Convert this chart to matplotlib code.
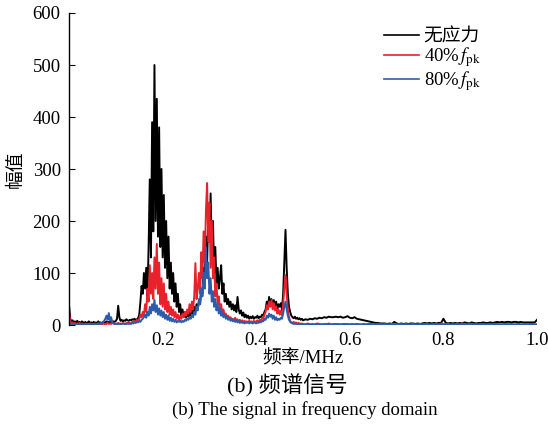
import numpy as np
import matplotlib
matplotlib.use("Agg")
import matplotlib.pyplot as plt

plt.rcParams['font.family'] = ['Liberation Serif', 'Noto Sans CJK SC']
plt.rcParams['mathtext.fontset'] = 'stix'

# frequency axis: fine bins up to 0.5 MHz, coarser bins after
freq_fine = np.arange(0, 0.5, 0.0025)
freq_coarse = np.arange(0.5, 1.0001, 0.005)
freq_mhz = np.concatenate([freq_fine, freq_coarse])

# amplitude (no stress)
amp_free = [
    38, 12, 6, 9, 4, 7, 5, 8, 4, 6, 3, 7, 5, 4, 6, 3, 5, 7, 4, 5,
    3, 6, 4, 5, 3, 7, 4, 5, 3, 6, 4, 5, 7, 4, 6, 5, 8, 5, 7, 6,
    8, 12, 37, 15, 8, 10, 7, 9, 8, 11, 9, 8, 10, 9, 11, 10, 12, 9, 11, 13,
    20, 45, 75, 60, 100, 70, 110, 55, 150, 280, 130, 390, 180, 500, 200, 435, 170, 380, 150, 300,
    130, 250, 110, 200, 90, 170, 70, 120, 60, 100, 45, 80, 35, 60, 25, 40, 18, 30, 15, 25,
    14, 25, 16, 30, 18, 28, 20, 35, 25, 40, 30, 45, 40, 70, 60, 110, 90, 170, 120, 210,
    160, 253, 140, 200, 100, 150, 80, 110, 70, 90, 115, 60, 80, 45, 60, 40, 50, 35, 45, 30,
    40, 28, 38, 25, 54, 30, 22, 28, 18, 24, 15, 20, 14, 18, 12, 16, 13, 17, 12, 15,
    14, 18, 13, 16, 15, 20, 18, 25, 30, 45, 35, 54, 40, 50, 38, 48, 35, 45, 30, 40,
    35, 42, 30, 60, 120, 183, 110, 60, 35, 25, 18, 15, 13, 16, 12, 14, 11, 13, 10, 12,
    9, 11, 10, 12, 11, 13, 12, 14, 13, 15, 14, 16, 15, 15, 16, 15, 16, 14, 15, 17,
    14, 13, 15, 12, 11, 10, 9, 8, 7, 6, 5, 4, 4, 3, 3, 3, 2, 3, 2, 6,
    3, 2, 3, 2, 3, 2, 3, 3, 2, 3, 2, 3, 4, 3, 4, 3, 4, 3, 4, 4,
    12, 4, 3, 4, 3, 4, 3, 4, 3, 5, 4, 3, 5, 4, 3, 4, 4, 5, 4, 4,
    5, 4, 5, 6, 5, 6, 5, 6, 6, 5, 6, 6, 5, 6, 5, 5, 5, 5, 5, 5,
    10,
]

# 40% fpk
amp_40 = [
    25, 8, 3, 5, 2, 4, 1, 3, 2, 4, 1, 3, 2, 1, 3, 2, 1, 2, 3, 1,
    2, 1, 3, 1, 2, 3, 1, 2, 1, 3, 2, 1, 2, 4, 2, 3, 2, 4, 3, 2,
    3, 2, 4, 2, 3, 2, 4, 3, 2, 4, 3, 5, 3, 4, 6, 4, 8, 5, 10, 7,
    12, 20, 15, 25, 18, 40, 25, 70, 45, 115, 60, 100, 50, 130, 70, 156, 60, 120, 40, 90,
    35, 80, 30, 60, 25, 45, 20, 35, 18, 30, 15, 25, 12, 20, 10, 18, 12, 22, 15, 25,
    18, 30, 22, 40, 25, 45, 30, 55, 119, 50, 70, 100, 60, 140, 90, 180, 120, 220, 273, 160,
    235, 110, 200, 90, 130, 55, 80, 40, 55, 30, 40, 22, 30, 18, 22, 15, 18, 12, 15, 10,
    12, 9, 14, 8, 11, 7, 10, 6, 9, 5, 8, 6, 7, 5, 8, 6, 7, 5, 8, 6,
    7, 9, 6, 10, 8, 14, 12, 20, 25, 38, 30, 45, 35, 48, 30, 42, 28, 36, 22, 30,
    20, 28, 18, 40, 70, 96, 60, 30, 15, 8, 5, 4, 6, 3, 5, 2, 4, 3, 2, 3,
    2, 1, 3, 1, 2, 1, 3, 2, 1, 2, 1, 3, 1, 2, 1, 2, 1, 2, 1, 2,
    1, 2, 1, 2, 1, 1, 2, 1, 1, 2, 1, 1, 2, 1, 1, 2, 1, 1, 2, 1,
    1, 2, 1, 1, 2, 1, 1, 2, 1, 1, 2, 1, 1, 2, 1, 1, 2, 1, 1, 3,
    1, 1, 2, 1, 1, 2, 1, 1, 3, 1, 1, 2, 1, 1, 2, 1, 1, 2, 1, 1,
    2, 1, 1, 2, 1, 1, 2, 1, 1, 2, 1, 1, 2, 1, 1, 2, 1, 1, 2, 1,
    1,
]

# 80% fpk
amp_80 = [
    3, 2, 1, 2, 1, 2, 1, 1, 2, 1, 2, 1, 1, 2, 1, 2, 1, 1, 2, 1,
    2, 1, 2, 1, 2, 3, 2, 4, 3, 5, 8, 12, 18, 10, 23, 8, 15, 5, 3, 2,
    2, 1, 3, 2, 1, 2, 3, 2, 1, 2, 3, 2, 3, 2, 4, 3, 5, 4, 6, 5,
    8, 6, 10, 12, 15, 20, 14, 25, 18, 35, 22, 40, 28, 48, 25, 38, 20, 32, 18, 28,
    15, 25, 12, 20, 10, 18, 8, 14, 7, 12, 6, 10, 5, 8, 6, 9, 5, 8, 6, 10,
    8, 12, 10, 15, 12, 20, 15, 25, 20, 35, 28, 50, 40, 70, 55, 100, 70, 150, 90, 120,
    60, 90, 45, 65, 35, 50, 28, 40, 22, 32, 18, 25, 15, 20, 12, 16, 10, 14, 8, 12,
    7, 10, 6, 9, 5, 8, 4, 7, 4, 6, 3, 5, 4, 6, 3, 5, 4, 3, 5, 4,
    3, 5, 4, 6, 5, 8, 7, 12, 10, 18, 14, 22, 16, 20, 12, 18, 10, 15, 9, 12,
    10, 14, 12, 22, 35, 45, 30, 18, 10, 6, 4, 3, 2, 3, 2, 1, 2, 1, 2, 1,
    1, 1, 2, 1, 1, 1, 2, 1, 1, 1, 2, 1, 1, 1, 2, 1, 1, 1, 2, 1,
    1, 1, 1, 2, 1, 1, 1, 1, 2, 1, 1, 1, 1, 2, 1, 1, 1, 1, 2, 1,
    1, 1, 2, 1, 1, 1, 1, 2, 1, 1, 1, 1, 2, 1, 1, 1, 1, 2, 1, 1,
    1, 2, 1, 1, 1, 1, 2, 1, 1, 1, 1, 2, 1, 1, 1, 1, 2, 1, 1, 1,
    1, 1, 2, 1, 1, 1, 1, 2, 1, 1, 1, 1, 2, 1, 1, 1, 1, 2, 1, 1,
    1,
]

labels = ["无应力", r"40%$\,f_{\mathrm{pk}}$", r"80%$\,f_{\mathrm{pk}}$"]
colors = ["#000000", "#e8212b", "#2d5cab"]
x_ticks = [0.2, 0.4, 0.6, 0.8, 1.0]
y_ticks = [0, 100, 200, 300, 400, 500, 600]

fig = plt.figure(figsize=(5.48, 4.29), dpi=100)
ax = fig.add_axes([0.126, 0.2424, 0.854, 0.7273])

for amp, lab, col in zip([amp_free, amp_40, amp_80], labels, colors):
    ax.plot(freq_mhz, amp, color=col, lw=1.4, label=lab)

ax.set_xlim(0, 1.0)
ax.set_ylim(0, 600)
ax.set_xticks(x_ticks)
ax.set_xticklabels([f"{t:.1f}" for t in x_ticks])
ax.set_yticks(y_ticks)
ax.tick_params(axis="y", direction="in", length=4, labelsize=13.5, pad=6)
ax.tick_params(axis="x", length=0, labelsize=13.5, pad=5)
for side in ["top", "right", "bottom"]:
    ax.spines[side].set_visible(False)
ax.spines["left"].set_linewidth(1.0)

ax.set_xlabel("频率/MHz", fontsize=13.5, labelpad=1)
ax.set_ylabel("幅值", fontsize=13.5, labelpad=6)

leg = ax.legend(loc="upper right", bbox_to_anchor=(0.916, 1.005), frameon=False,
                fontsize=13.5, handlelength=1.85, handletextpad=0.25, labelspacing=0.0)
for line in leg.get_lines():
    line.set_linewidth(1.2)

fig.text(0.524, 0.1, "(b) 频谱信号", ha="center", va="center", fontsize=16)
fig.text(0.556, 0.044, "(b) The signal in frequency domain", ha="center", va="center", fontsize=13.5)

fig.savefig("out.png", dpi=100)
